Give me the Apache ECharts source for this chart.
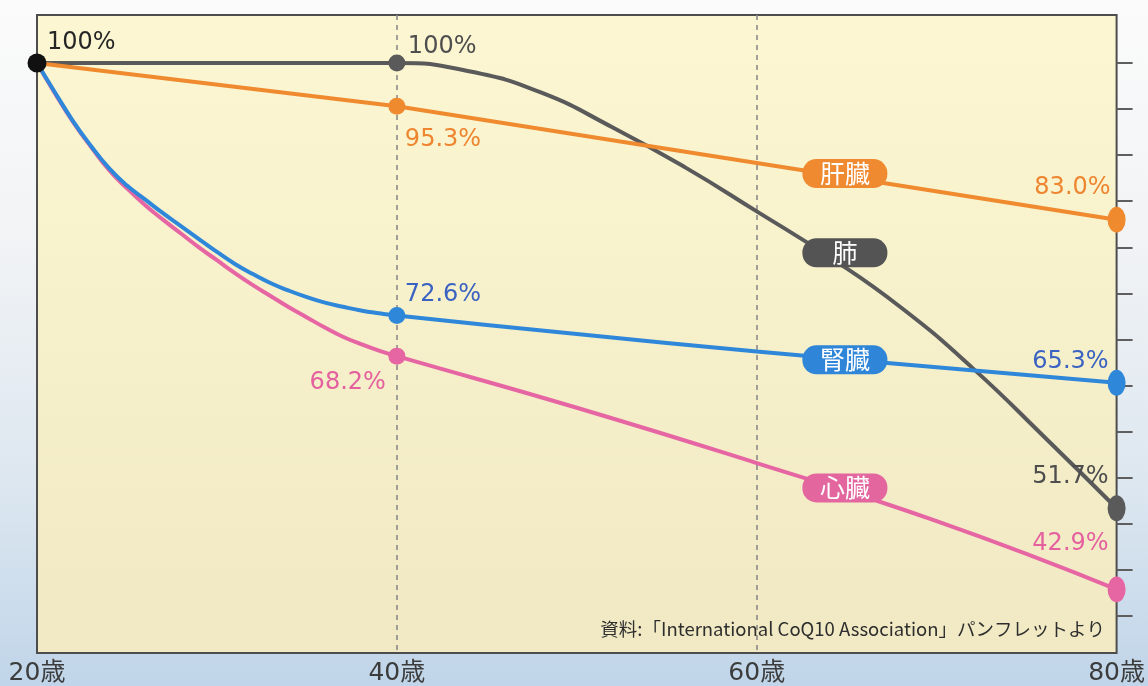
<!DOCTYPE html>
<html><head><meta charset="utf-8">
<script src="https://cdn.jsdelivr.net/npm/echarts@6/dist/echarts.min.js"></script>
<style>
html,body{margin:0;padding:0;width:1148px;height:686px;overflow:hidden;
background:linear-gradient(to bottom,#fbfbfb 0%,#f1f3f5 35%,#dde7f0 70%,#c0d5e9 100%);}
#c{width:1148px;height:686px;}
</style></head><body><div id="c"></div>
<script>
// ---- data ----
const xTicks = [20, 40, 60, 80];
const xSuffix = '歳';
const yTicks = [40, 45, 50, 55, 60, 65, 70, 75, 80, 85, 90, 95, 100];

const liverName = '肝臓';
const liverAges = [20, 40, 80];
const liverValues = [100, 95.3, 83.0];

const lungName = '肺';
const lungAges = [20, 39, 40, 44, 48, 52, 56, 60, 64, 68, 72, 76, 80];
const lungValues = [100, 100, 100, 99.1, 96.8, 93.0, 88.7, 83.9, 79.0, 73.5, 66.9, 59.4, 51.7];

const kidneyName = '腎臓';
const kidneyAges = [20, 21, 22, 23, 24, 25, 26, 27, 28, 29, 30, 31, 32, 33, 34, 35, 36, 37, 38, 39, 40, 50, 60, 70, 80];
const kidneyValues = [100, 96.8, 93.7, 91.0, 88.6, 86.7, 85.2, 83.7, 82.3, 80.9, 79.5, 78.2, 77.1, 76.1, 75.3, 74.6, 74.0, 73.55, 73.15, 72.85, 72.6, 70.6, 68.7, 67.0, 65.3];

const heartName = '心臓';
const heartAges = [20, 21, 22, 23, 24, 25, 26, 27, 28, 29, 30, 31, 32, 33, 34, 35, 36, 37, 38, 39, 40, 50, 60, 70, 80];
const heartValues = [100, 96.7, 93.6, 90.9, 88.4, 86.4, 84.6, 83.0, 81.5, 80.0, 78.6, 77.2, 75.9, 74.7, 73.5, 72.4, 71.3, 70.3, 69.5, 68.8, 68.2, 62.6, 56.6, 50.3, 42.9];

// where the name tags sit (age, value)
const tagAge = 64.9;
const tagValues = { '肝臓': 88.0, '肺': 79.4, '腎臓': 67.8, '心臓': 53.9 };

const sourceNote = '資料:「International CoQ10 Association」パンフレットより';

// ---- styles ----
const fontLatin = "'DejaVu Sans', 'Noto Sans CJK JP', sans-serif";
const fontCJK = "'Noto Sans CJK JP', sans-serif";
const styles = {
  '肝臓': { line: '#ef8a2f', text: '#ee8530', tag: '#ef8a30',
    labels: { 20: { dx: 10, dy: -20, align: 'left', color: '#262626' }, 40: { dx: 8, dy: 33, align: 'left' }, 80: { dx: -6, dy: -32, align: 'right' } } },
  '肺': { line: '#5a5a5a', text: '#4e4e4e', tag: '#545454',
    labels: { 40: { dx: 11, dy: -16, align: 'left' }, 80: { dx: -8, dy: -31, align: 'right' } } },
  '腎臓': { line: '#2f87da', text: '#3a62c2', tag: '#2f86d8',
    labels: { 40: { dx: 8, dy: -21, align: 'left' }, 80: { dx: -8, dy: -21, align: 'right' } } },
  '心臓': { line: '#e666a4', text: '#e5609f', tag: '#e3669f',
    labels: { 40: { dx: -11, dy: 27, align: 'right' }, 80: { dx: -8, dy: -46, align: 'right' } } }
};

const fmt = p => (p.value[1] === 100 ? '100%' : p.value[1].toFixed(1) + '%');

function buildData(ages, values, st, startDot) {
  return ages.map((a, i) => {
    const item = { value: [a, values[i]] };
    const key = a === 40 || a === 80 || (a === 20 && startDot);
    if (!key) { item.symbol = 'none'; return item; }
    item.symbol = 'circle';
    item.symbolSize = a === 80 ? [18, 26] : (a === 20 ? 19 : 17);
    if (a === 20) item.itemStyle = { color: '#111' };
    const l = st.labels[a];
    if (l) {
      item.label = {
        show: true, position: 'inside', offset: [l.dx, l.dy], align: l.align,
        verticalAlign: 'middle', color: l.color || st.text, fontSize: 24,
        fontFamily: fontLatin, formatter: fmt
      };
    }
    return item;
  });
}

function makeSeries(name, ages, values, smooth, startDot, z) {
  const st = styles[name];
  return {
    name, type: 'line', z,
    smooth,
    showAllSymbol: true,
    data: buildData(ages, values, st, startDot),
    lineStyle: { color: st.line, width: 4 },
    itemStyle: { color: st.line },
    emphasis: { disabled: true },
    markPoint: {
      z: 20,
      symbol: 'circle', symbolSize: 1, itemStyle: { color: 'rgba(0,0,0,0)' },
      data: [{ coord: [tagAge, tagValues[name]], value: name }],
      label: {
        show: true, position: 'inside', formatter: name,
        backgroundColor: st.tag, borderRadius: 14, width: 85, height: 29, lineHeight: 29,
        align: 'center', verticalAlign: 'middle', padding: 0,
        color: '#ffffff', fontSize: 25, fontFamily: fontCJK
      }
    }
  };
}

const chart = echarts.init(document.getElementById('c'), null, { renderer: 'canvas' });
chart.setOption({
  animation: false,
  backgroundColor: 'transparent',
  grid: {
    left: 37, right: 25, top: 15, bottom: 31, show: true,
    borderColor: '#4d4d4d', borderWidth: 2,
    backgroundColor: new echarts.graphic.LinearGradient(0, 0, 0, 1, [
      { offset: 0, color: '#fcf7d2' }, { offset: 1, color: '#f0e9c3' }
    ])
  },
  xAxis: {
    type: 'value', min: xTicks[0], max: xTicks[xTicks.length - 1], interval: 20,
    axisLine: { show: false }, axisTick: { show: false },
    splitLine: { show: true, showMinLine: false, showMaxLine: false,
      lineStyle: { type: [5, 5], color: '#8a8a8a', width: 1.6 } },
    axisLabel: { formatter: v => v + xSuffix, fontSize: 25, color: '#3c3c3c', margin: 8, fontFamily: fontLatin }
  },
  yAxis: {
    type: 'value', position: 'right', min: 36, max: 105.2,
    axisLine: { show: false },
    axisTick: { show: true, inside: false, length: 16, customValues: yTicks,
      lineStyle: { color: '#5e5e5e', width: 2 } },
    axisLabel: { show: false },
    splitLine: { show: false }
  },
  series: [
    makeSeries(lungName, lungAges, lungValues, 0.5, false, 2),
    makeSeries(heartName, heartAges, heartValues, 0.5, false, 3),
    makeSeries(kidneyName, kidneyAges, kidneyValues, 0.5, false, 4),
    makeSeries(liverName, liverAges, liverValues, false, true, 5)
  ],
  graphic: [{
    type: 'text', right: 43, top: 620, z: 10,
    style: { text: sourceNote, fill: '#2e2e2e', fontSize: 18.5, fontFamily: fontCJK }
  }]
});
</script></body></html>
